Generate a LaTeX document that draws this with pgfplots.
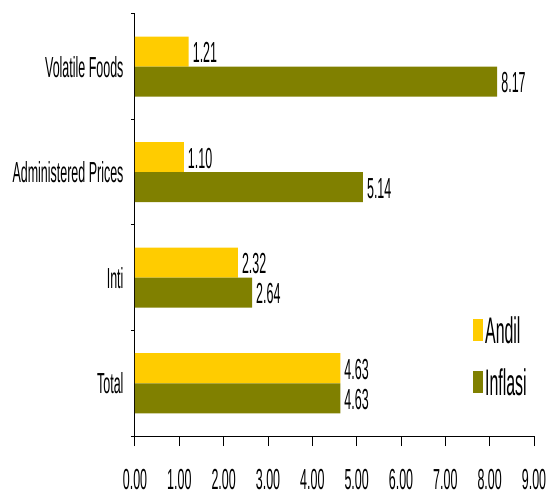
\documentclass[border=0pt]{standalone}
\usepackage{pgfplots}
\pgfplotsset{compat=1.18}
\usepackage{fontspec}
\setmainfont[FakeStretch=0.43]{Liberation Sans}
\definecolor{andil}{RGB}{255,204,0}
\definecolor{inflasi}{RGB}{128,128,0}
\begin{document}
\begin{tikzpicture}
\useasboundingbox (-135pt,-61pt) rectangle (418pt,436pt);
\begin{axis}[
  at={(0,0)}, anchor=south west,
  scale only axis, width=399pt, height=422pt,
  xmin=0, xmax=9, ymin=-0.5, ymax=3.5,
  xbar, bar width=30pt,
  axis lines*=left,
  axis line style={line width=1pt, black},
  xtick={0,1,2,3,4,5,6,7,8,9},
  xticklabels={0.00,1.00,2.00,3.00,4.00,5.00,6.00,7.00,8.00,9.00},
  tick align=outside,
  major tick length=10pt, minor tick length=4pt,
  major x tick style={black, line width=1pt},
  major y tick style={draw=none},
  minor y tick style={black, line width=1pt},
  minor x tick num=0,
  ytick={0,1,2,3},
  yticklabels={Total,Inti,Administered Prices,Volatile Foods},
  minor ytick={-0.5,0.5,1.5,2.5,3.5},
  ticklabel style={font=\fontsize{29}{32}\selectfont, black},
  xticklabel style={yshift=-23pt, inner ysep=0pt, text depth=0pt},
  yticklabel style={xshift=2pt},
  point meta=x,
  nodes near coords={\pgfmathprintnumber[fixed,fixed zerofill,precision=2,assume math mode=true]{\pgfplotspointmeta}},
  nodes near coords style={font=\fontsize{29}{32}\selectfont, black, anchor=west, inner xsep=4pt, inner ysep=2pt, yshift=-1pt},
  legend style={at={(rel axis cs:0.847,0.188)}, anchor=west, draw=none, fill=none,
    font=\fontsize{37}{40}\selectfont, row sep=20pt, inner sep=0pt,
    nodes={inner sep=2pt}},
  legend cell align=left,
  legend image code/.code={\fill[#1] (0pt,-10pt) rectangle (10pt,12pt);},
]
\addplot[fill=andil, draw=none, bar shift=15pt] coordinates {(4.63,0) (2.32,1) (1.10,2) (1.21,3)};
\addplot[fill=inflasi, draw=none, bar shift=-15pt] coordinates {(4.63,0) (2.64,1) (5.14,2) (8.17,3)};
\legend{Andil,Inflasi}
\end{axis}
\end{tikzpicture}
\end{document}
